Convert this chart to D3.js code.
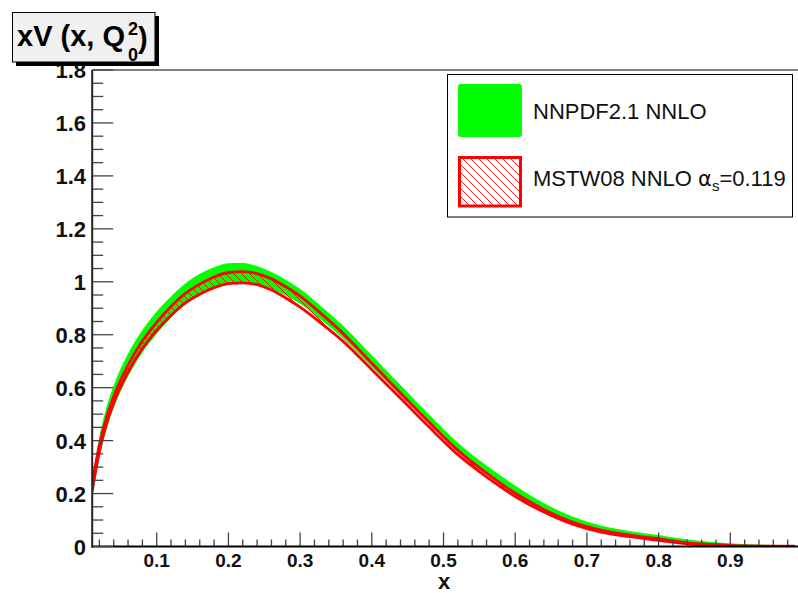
<!DOCTYPE html>
<html>
<head>
<meta charset="utf-8">
<script src="https://cdn.jsdelivr.net/npm/d3@7"></script>
<style>
  html, body { margin: 0; padding: 0; background: #fff; }
  svg { display: block; font-family: "Liberation Sans", Arial, Helvetica, sans-serif; }
</style>
</head>
<body>
<svg id="chart" width="798" height="593"></svg>
<script>
// ---- data ----
const xGrid        = [0.01, 0.02, 0.03, 0.04, 0.06, 0.08, 0.10, 0.12, 0.14, 0.16, 0.18, 0.20, 0.22, 0.24, 0.26, 0.28, 0.30, 0.33, 0.36, 0.40, 0.44, 0.48, 0.52, 0.56, 0.60, 0.64, 0.68, 0.72, 0.76, 0.80, 0.84, 0.88, 0.92, 0.96, 0.99];
const nnpdfCentral = [0.21, 0.375, 0.485, 0.565, 0.685, 0.775, 0.845, 0.905, 0.955, 0.992, 1.018, 1.033, 1.035, 1.025, 1.005, 0.978, 0.945, 0.88, 0.81, 0.70, 0.59, 0.48, 0.375, 0.29, 0.215, 0.15, 0.10, 0.067, 0.047, 0.033, 0.019, 0.009, 0.003, 0.001, 0.0];
const nnpdfError   = [0.022, 0.03, 0.035, 0.038, 0.04, 0.04, 0.04, 0.038, 0.037, 0.036, 0.035, 0.035, 0.034, 0.032, 0.03, 0.028, 0.026, 0.024, 0.022, 0.02, 0.018, 0.016, 0.015, 0.014, 0.013, 0.012, 0.011, 0.01, 0.009, 0.008, 0.006, 0.005, 0.004, 0.003, 0.003];
const mstwCentral  = [0.225, 0.37, 0.475, 0.555, 0.672, 0.762, 0.832, 0.89, 0.938, 0.972, 0.998, 1.014, 1.017, 1.01, 0.99, 0.96, 0.925, 0.86, 0.79, 0.68, 0.57, 0.46, 0.355, 0.27, 0.195, 0.135, 0.088, 0.058, 0.04, 0.026, 0.012, 0.005, 0.001, 0.0, 0.0];
const mstwError    = [0.014, 0.012, 0.012, 0.012, 0.013, 0.014, 0.015, 0.017, 0.018, 0.019, 0.02, 0.021, 0.021, 0.021, 0.021, 0.021, 0.021, 0.018, 0.015, 0.012, 0.01, 0.009, 0.008, 0.007, 0.006, 0.005, 0.004, 0.004, 0.003, 0.003, 0.002, 0.002, 0.001, 0.001, 0.001];

const xMajorTicks = [0.1, 0.2, 0.3, 0.4, 0.5, 0.6, 0.7, 0.8, 0.9];
const yMajorTicks = [0, 0.2, 0.4, 0.6, 0.8, 1, 1.2, 1.4, 1.6, 1.8];
const xMinorTicks = d3.range(1, 50).map(i => +(i * 0.02).toFixed(2)).filter(v => !xMajorTicks.some(m => Math.abs(m - v) < 1e-9));
const yMinorTicks = d3.range(0, 37).map(i => +(i * 0.05).toFixed(2)).filter(v => !yMajorTicks.some(m => Math.abs(m - v) < 1e-9));

const legendLabels = ["NNPDF2.1 NNLO", "MSTW08 NNLO"];

// ---- layout ----
const svg = d3.select("#chart");
const pL = 92.2, pR = 802, pT = 70, pB = 546.5;
const x = d3.scaleLinear().domain([0.01, 1.0]).range([pL, pR]);
const y = d3.scaleLinear().domain([0, 1.8]).range([pB, pT]);

const defs = svg.append("defs");
defs.append("clipPath").attr("id", "clip").append("rect")
  .attr("x", pL).attr("y", pT).attr("width", pR - pL).attr("height", pB - pT);
const pat = defs.append("pattern").attr("id", "hatch")
  .attr("patternUnits", "userSpaceOnUse").attr("width", 8).attr("height", 8);
pat.append("path").attr("d", "M-2,-2 L10,10 M-2,6 L2,10 M6,-2 L10,2")
  .attr("stroke", "#ff0000").attr("stroke-width", 0.9).attr("fill", "none");

const nn = xGrid.map((v, i) => ({x: v, lo: nnpdfCentral[i] - nnpdfError[i], hi: nnpdfCentral[i] + nnpdfError[i]}));
const ms = xGrid.map((v, i) => ({x: v, lo: mstwCentral[i] - mstwError[i], hi: mstwCentral[i] + mstwError[i]}));

const curve = d3.curveMonotoneX;
const area = d3.area().x(d => x(d.x)).y0(d => y(d.lo)).y1(d => y(d.hi)).curve(curve);
const lineLo = d3.line().x(d => x(d.x)).y(d => y(d.lo)).curve(curve);
const lineHi = d3.line().x(d => x(d.x)).y(d => y(d.hi)).curve(curve);

const plot = svg.append("g").attr("clip-path", "url(#clip)");
plot.append("path").datum(nn).attr("d", area).attr("fill", "#00ff00").attr("stroke", "#00ff00").attr("stroke-width", 1);
plot.append("path").datum(ms).attr("d", area).attr("fill", "url(#hatch)");
plot.append("path").datum(ms).attr("d", lineLo).attr("fill", "none").attr("stroke", "#ff0000").attr("stroke-width", 2.8);
plot.append("path").datum(ms).attr("d", lineHi).attr("fill", "none").attr("stroke", "#ff0000").attr("stroke-width", 2.8);

// ---- frame & axes ----
const axisCol = "#222";
svg.append("line").attr("x1", pL).attr("x2", 798).attr("y1", pT).attr("y2", pT).attr("stroke", "#000").attr("stroke-width", 1);

// x axis (ticks inward, upward)
const gx = svg.append("g");
gx.selectAll("line.maj").data(xMajorTicks).join("line")
  .attr("x1", d => x(d)).attr("x2", d => x(d)).attr("y1", pB).attr("y2", pB - 14)
  .attr("stroke", "#444").attr("stroke-width", 1.3);
gx.selectAll("line.min").data(xMinorTicks).join("line")
  .attr("x1", d => x(d)).attr("x2", d => x(d)).attr("y1", pB).attr("y2", pB - 7)
  .attr("stroke", "#444").attr("stroke-width", 1.3);
gx.selectAll("text").data(xMajorTicks).join("text")
  .attr("x", d => x(d)).attr("y", 567).attr("text-anchor", "middle")
  .attr("font-size", 19).attr("font-weight", "bold").attr("fill", "#111")
  .text(d => d3.format(".1f")(d));
svg.append("line").attr("x1", pL - 1).attr("x2", 798).attr("y1", pB).attr("y2", pB).attr("stroke", "#000").attr("stroke-width", 2.2);
svg.append("text").attr("x", 444).attr("y", 589).attr("text-anchor", "middle")
  .attr("font-size", 22).attr("font-weight", "bold").attr("fill", "#111").text("x");

// y axis (ticks inward, rightward)
const gy = svg.append("g");
gy.selectAll("line.maj").data(yMajorTicks).join("line")
  .attr("x1", pL).attr("x2", pL + 21).attr("y1", d => y(d)).attr("y2", d => y(d))
  .attr("stroke", "#444").attr("stroke-width", 1.3);
gy.selectAll("line.min").data(yMinorTicks).join("line")
  .attr("x1", pL).attr("x2", pL + 11).attr("y1", d => y(d)).attr("y2", d => y(d))
  .attr("stroke", "#444").attr("stroke-width", 1.3);
gy.selectAll("text").data(yMajorTicks).join("text")
  .attr("x", 86).attr("y", d => y(d) + 8).attr("text-anchor", "end")
  .attr("font-size", 22).attr("font-weight", "bold").attr("fill", "#111")
  .text(d => d3.format("~g")(d));
svg.append("line").attr("x1", pL).attr("x2", pL).attr("y1", pT).attr("y2", pB + 1).attr("stroke", axisCol).attr("stroke-width", 2);

// ---- title box ----
svg.append("rect").attr("x", 16).attr("y", 16).attr("width", 143).attr("height", 50).attr("fill", "#000");
svg.append("rect").attr("x", 12.5).attr("y", 12.5).attr("width", 142.5).attr("height", 49.5)
  .attr("fill", "#f0f0f0").attr("stroke", "#000").attr("stroke-width", 1);
const title = svg.append("g").attr("font-weight", "bold").attr("fill", "#000");
title.append("text").attr("x", 17).attr("y", 46).attr("font-size", 29).text("xV (x, Q");
title.append("text").attr("x", 128).attr("y", 35).attr("font-size", 18).text("2");
title.append("text").attr("x", 128).attr("y", 61).attr("font-size", 18).text("0");
title.append("text").attr("x", 138).attr("y", 48).attr("font-size", 29).text(")");

// ---- legend ----
const lg = svg.append("g");
lg.append("rect").attr("x", 447.5).attr("y", 74.5).attr("width", 345).attr("height", 142.5)
  .attr("fill", "#fff").attr("stroke", "#000").attr("stroke-width", 1);
lg.append("rect").attr("x", 458).attr("y", 84).attr("width", 64).attr("height", 53).attr("rx", 3)
  .attr("fill", "#00ff00");
lg.append("rect").attr("x", 459.5).attr("y", 157.5).attr("width", 61).attr("height", 48.5)
  .attr("fill", "url(#hatch)").attr("stroke", "#ff0000").attr("stroke-width", 3);
lg.append("text").attr("x", 533).attr("y", 119).attr("font-size", 22).attr("fill", "#111").text(legendLabels[0]);
const t2 = lg.append("text").attr("x", 533).attr("y", 186).attr("font-size", 22).attr("fill", "#111");
t2.append("tspan").text(legendLabels[1] + " ");
t2.append("tspan").attr("font-family", "DejaVu Sans").attr("font-size", 21).text("α");
t2.append("tspan").attr("font-size", 15).attr("dy", 5).text("s");
t2.append("tspan").attr("dy", -5).text("=0.119");
</script>
</body>
</html>
